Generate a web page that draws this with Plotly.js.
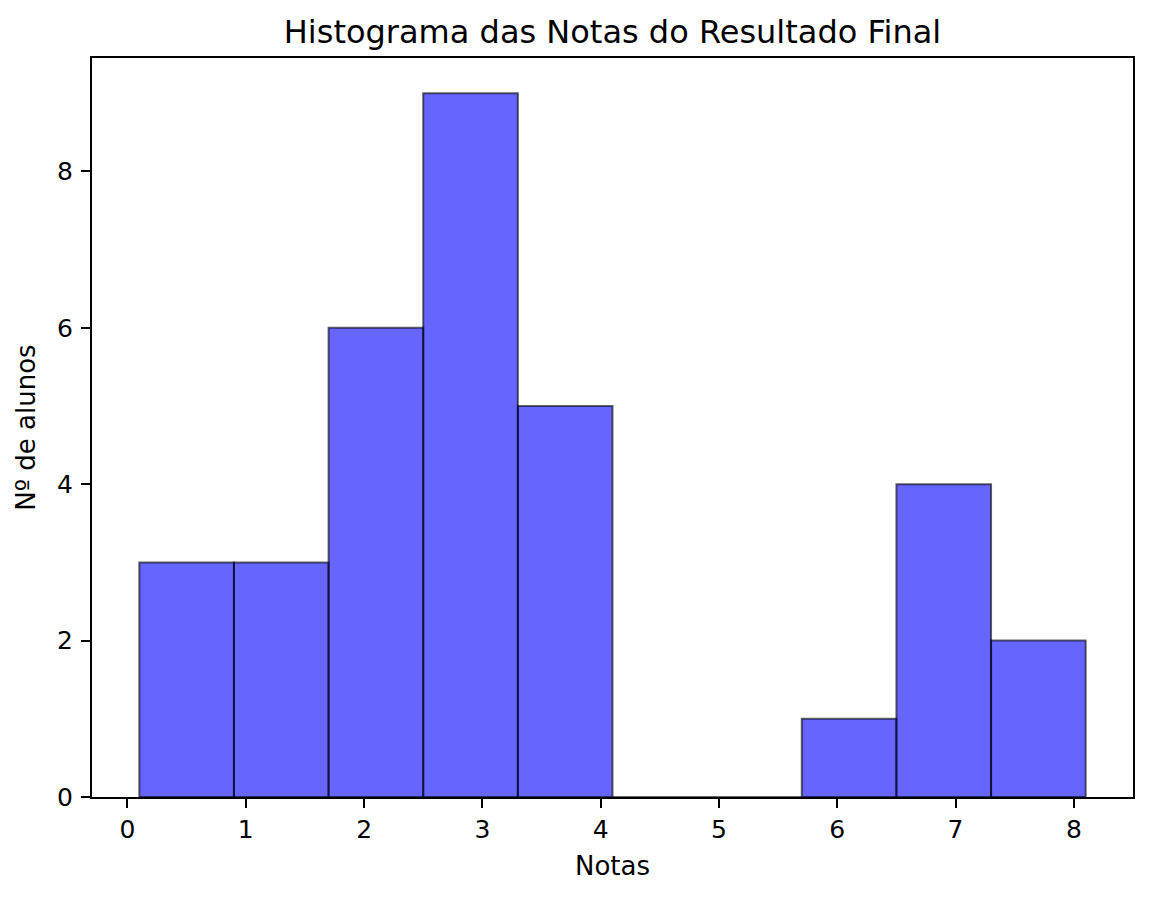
<!DOCTYPE html>
<html>
<head>
<meta charset="utf-8">
<script src="https://cdn.plot.ly/plotly-3.0.1.min.js"></script>
<style>html,body{margin:0;padding:0;background:#fff;}#chart{width:1152px;height:898px;}</style>
</head>
<body>
<div id="chart"></div>
<script>
const binEdges = [0.1, 0.9, 1.7, 2.5, 3.3, 4.1, 4.9, 5.7, 6.5, 7.3, 8.1];
const counts = [3, 3, 6, 9, 5, 0, 0, 1, 4, 2];
const xTickVals = [0, 1, 2, 3, 4, 5, 6, 7, 8];
const yTickVals = [0, 2, 4, 6, 8];
const titleText = "Histograma das Notas do Resultado Final";
const xTitle = "Notas";
const yTitle = "Nº de alunos";

const centers = counts.map((c, i) => (binEdges[i] + binEdges[i + 1]) / 2);
const widths = counts.map((c, i) => binEdges[i + 1] - binEdges[i]);

const font = "DejaVu Sans, sans-serif";
const trace = {
  type: "bar",
  x: centers,
  y: counts,
  width: widths,
  marker: {
    color: "rgba(0,0,255,0.6)",
    line: { color: "rgba(0,0,0,0.6)", width: 2 }
  },
  hoverinfo: "x+y"
};

const axisCommon = {
  showgrid: false,
  zeroline: false,
  showline: true,
  linecolor: "#000",
  linewidth: 2,
  mirror: true,
  ticks: "outside",
  ticklen: 9,
  tickwidth: 2,
  tickcolor: "#000",
  tickfont: { family: font, size: 25, color: "#000" }
};

const layout = {
  width: 1152,
  height: 898,
  margin: { l: 92, r: 19, t: 58, b: 101 },
  paper_bgcolor: "#fff",
  plot_bgcolor: "#fff",
  showlegend: false,
  bargap: 0,
  title: {
    text: titleText,
    font: { family: font, size: 32, color: "#000" },
    x: 0.5, xref: "paper", xanchor: "center",
    y: 1 - 32 / 898, yref: "container", yanchor: "middle"
  },
  xaxis: Object.assign({}, axisCommon, {
    range: [-0.3, 8.5],
    tickvals: xTickVals,
    ticktext: xTickVals.map(String),
    title: { text: xTitle, font: { family: font, size: 26, color: "#000" }, standoff: 14 }
  }),
  yaxis: Object.assign({}, axisCommon, {
    range: [0, 9.45],
    tickvals: yTickVals,
    ticktext: yTickVals.map(String),
    ticklabelstandoff: 3,
    title: { text: yTitle, font: { family: font, size: 26, color: "#000" }, standoff: 14 }
  })
};

Plotly.newPlot("chart", [trace], layout, { displayModeBar: false, staticPlot: true });
</script>
</body>
</html>
